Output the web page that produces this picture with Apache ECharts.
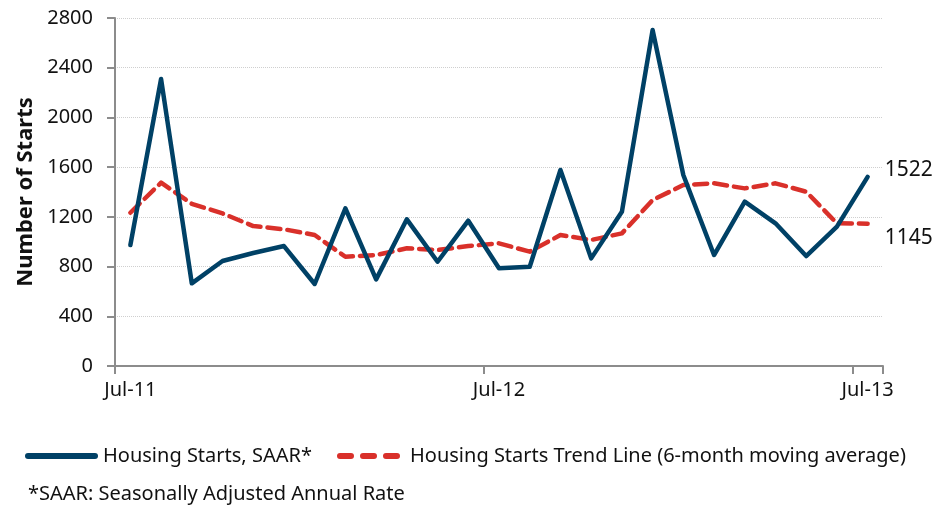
<!DOCTYPE html>
<html>
<head>
<meta charset="utf-8">
<script src="https://cdn.jsdelivr.net/npm/echarts@6/dist/echarts.min.js"></script>
<style>
html,body{margin:0;padding:0;background:#fff;}
#chart{width:943px;height:508px;}
</style>
</head>
<body>
<div id="chart"></div>
<script>
const months = ['Jul-11','Aug-11','Sep-11','Oct-11','Nov-11','Dec-11','Jan-12','Feb-12','Mar-12','Apr-12','May-12','Jun-12',
  'Jul-12','Aug-12','Sep-12','Oct-12','Nov-12','Dec-12','Jan-13','Feb-13','Mar-13','Apr-13','May-13','Jun-13','Jul-13'];
const housingStarts = [973, 2309, 665, 845, 909, 965, 660, 1269, 697, 1180, 839, 1169,
  786, 799, 1577, 866, 1241, 2703, 1537, 893, 1322, 1148, 885, 1121, 1522];
const trendLine = [1233, 1475, 1305, 1228, 1126, 1100, 1054, 879, 893, 947, 933, 965,
  987, 920, 1054, 1014, 1067, 1335, 1456, 1470, 1429, 1470, 1402, 1148, 1145];
const yTicks = {min: 0, max: 2800, interval: 400};
const seriesNames = ['Housing Starts, SAAR*', 'Housing Starts Trend Line (6-month moving average)'];
const footnote = '*SAAR: Seasonally Adjusted Annual Rate';
const yTitle = 'Number of Starts';

const FONT = '"Noto Sans", sans-serif';
const BLUE = '#004166';
const RED = '#d9302a';
const chart = echarts.init(document.getElementById('chart'), null, {renderer: 'canvas'});

const solidIcon = 'path://M3,0H70A3,3 0 0 1 70,6H3A3,3 0 0 1 3,0Z';
const dashIcon = 'path://M3,0H14A3,3 0 0 1 14,6H3A3,3 0 0 1 3,0Z M26,0H37A3,3 0 0 1 37,6H26A3,3 0 0 1 26,0Z M49,0H60A3,3 0 0 1 60,6H49A3,3 0 0 1 49,0Z';

chart.setOption({
  animation: false,
  textStyle: {fontFamily: FONT},
  grid: {left: 115, right: 60, top: 18, bottom: 142, containLabel: false},
  legend: [
    {
      left: 20, top: 441,
      itemWidth: 73, itemHeight: 6,
      textStyle: {fontFamily: FONT, fontSize: 20, color: '#111'},
      data: [{name: seriesNames[0], icon: solidIcon}]
    },
    {
      left: 332, top: 441,
      itemWidth: 63, itemHeight: 6,
      textStyle: {fontFamily: FONT, fontSize: 20, color: '#111', padding: [0, 0, 0, 5]},
      data: [{name: seriesNames[1], icon: dashIcon}]
    }
  ],
  graphic: [{
    type: 'text', left: 28, top: 484,
    style: {text: footnote, font: '20px ' + FONT, fill: '#111'}
  }],
  xAxis: {
    type: 'category',
    data: months,
    boundaryGap: true,
    axisLine: {lineStyle: {color: '#8c8c8c', width: 2}},
    axisTick: {show: true, interval: 11, length: 8, lineStyle: {color: '#8c8c8c', width: 2}},
    axisLabel: {interval: 11, fontSize: 20, color: '#111', margin: 14, fontFamily: FONT},
    splitLine: {show: false}
  },
  yAxis: {
    type: 'value',
    min: yTicks.min, max: yTicks.max, interval: yTicks.interval,
    name: yTitle,
    nameLocation: 'middle',
    nameGap: 73,
    nameTextStyle: {fontSize: 22, fontWeight: 'bold', color: '#111', fontFamily: FONT},
    axisLine: {show: true, lineStyle: {color: '#8c8c8c', width: 2}},
    axisTick: {show: true, length: 8, lineStyle: {color: '#8c8c8c', width: 2}},
    axisLabel: {fontSize: 20, color: '#111', margin: 22, fontFamily: FONT, formatter: v => String(v)},
    splitLine: {show: true, lineStyle: {color: '#cfcfcf', type: 'dotted', width: 1}}
  },
  series: [
    {
      name: seriesNames[0],
      type: 'line',
      data: housingStarts,
      symbol: 'none',
      lineStyle: {color: BLUE, width: 4.5, cap: 'round', join: 'round'},
      itemStyle: {color: BLUE},
      endLabel: {show: true, formatter: p => String(p.value), offset: [9, -7], fontSize: 21, color: '#111', fontFamily: FONT},
      z: 3
    },
    {
      name: seriesNames[1],
      type: 'line',
      data: trendLine,
      symbol: 'none',
      lineStyle: {color: RED, width: 4.5, type: [13, 7], cap: 'round', join: 'round'},
      itemStyle: {color: RED},
      endLabel: {show: true, formatter: p => String(p.value), offset: [9, 14], fontSize: 21, color: '#111', fontFamily: FONT},
      z: 2
    }
  ]
});
</script>
</body>
</html>
